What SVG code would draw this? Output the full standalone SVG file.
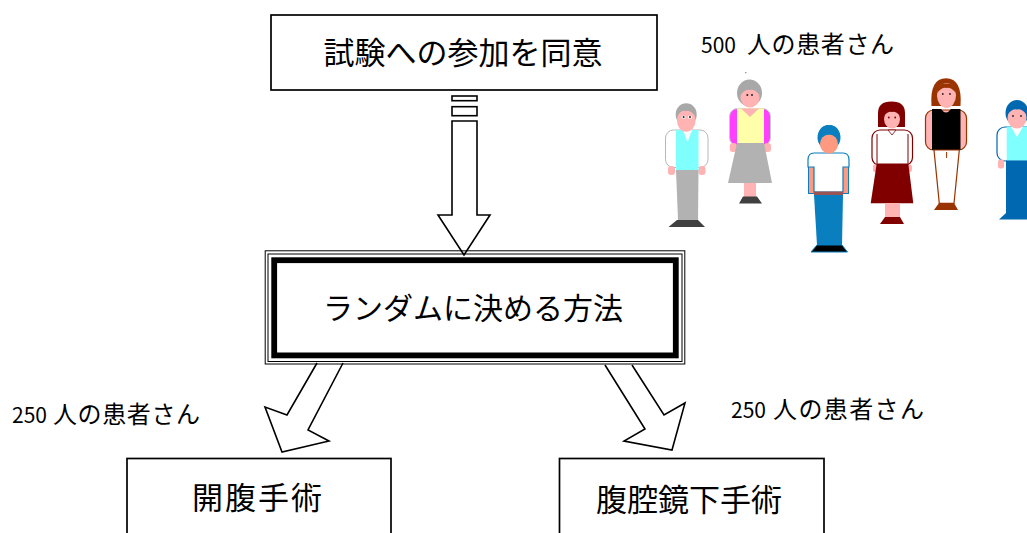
<svg xmlns="http://www.w3.org/2000/svg" width="1027" height="533" viewBox="0 0 1027 533">
  <style>
    .t { font-family: "Noto Sans CJK JP", "Noto Sans CJK SC", sans-serif; fill: #000; }
    .big { font-size: 31px; }
    .lbl { font-size: 21px; }
    .lbl tspan { font-size: 24px; }
    .box { fill: #fff; stroke: #000; stroke-width: 1.7; }
    .ring { fill: none; stroke: #000; stroke-width: 1; }
    .arrow { fill: #fff; stroke: #000; stroke-width: 1.6; stroke-linejoin: miter; }
    .skin { fill: #ffb3b3; }
    .eye { fill: #222; }
  </style>
  <rect width="1027" height="533" fill="#fff"/>

  <!-- block arrows between the steps -->
  <g id="connectors">
    <rect class="arrow" x="452" y="96" width="25" height="4.7"/>
    <rect class="arrow" x="452" y="106.7" width="25" height="9"/>
    <path class="arrow" d="M452,121 L452,215 L438,215 L464,255 L490,215 L477,215 L477,121 Z"/>
    <path class="arrow" d="M317,363 L287,415 L265,407 L282,452 L329,441 L308,430 L343,363"/>
    <path class="arrow" d="M605,365 L645,429 L624,441 L672,450 L685,403 L664,415 L632,365"/>
  </g>

  <!-- consent step -->
  <g id="consent">
    <rect class="box" x="271" y="15" width="386" height="75"/>
    <text class="t big" x="463" y="64" text-anchor="middle">試験への参加を同意</text>
  </g>

  <!-- randomisation step: thin-thin-thick frame -->
  <g id="randomize">
    <rect class="ring" x="265.2" y="250.8" width="419.6" height="113.2"/>
    <rect class="ring" x="268" y="254" width="414" height="107.5"/>
    <rect x="274.2" y="260.2" width="401.6" height="95.2" fill="#fff" stroke="#000" stroke-width="5.8"/>
    <text class="t" font-size="30" x="473" y="319" text-anchor="middle">ランダムに決める方法</text>
  </g>

  <!-- treatment arms -->
  <g id="open-surgery">
    <rect class="box" x="127" y="458.5" width="264" height="90"/>
    <text class="t big" x="258" y="509" text-anchor="middle" letter-spacing="2">開腹手術</text>
  </g>
  <g id="lap-surgery">
    <rect class="box" x="559.5" y="458.5" width="264.5" height="90"/>
    <text class="t big" x="689" y="511" text-anchor="middle">腹腔鏡下手術</text>
  </g>

  <!-- patient counts -->
  <g id="counts">
    <text class="t lbl" x="701" y="53">500 <tspan x="747" letter-spacing="0.6">人の患者さん</tspan></text>
    <text class="t lbl" x="12" y="423">250 <tspan x="53" letter-spacing="0.6">人の患者さん</tspan></text>
    <text class="t lbl" x="731" y="418">250 <tspan x="773" letter-spacing="1.4">人の患者さん</tspan></text>
  </g>

  <!-- patients -->
  <g id="patient-1">
    <rect x="665.5" y="130" width="42.5" height="37.5" rx="8" fill="#fff" stroke="#b8b8b8" stroke-width="1"/>
    <rect class="skin" x="668" y="166" width="7" height="9" rx="3"/>
    <rect class="skin" x="698.5" y="166" width="7" height="9" rx="3"/>
    <rect x="676" y="130" width="22.5" height="40" fill="#80ffff"/>
    <path d="M683,130 L692,130 L687.5,142 Z" fill="#fff"/>
    <path d="M676,170 L698.5,170 L698,220 L678,220 Z" fill="#b2b2b2"/>
    <path d="M677,220 L698,220 L705,227 L668.5,227 Z" fill="#404040"/>
    <ellipse cx="686.2" cy="114.5" rx="10.5" ry="11.2" fill="#a8a8a8"/>
    <ellipse class="skin" cx="686.2" cy="120.5" rx="9.3" ry="11.2"/>
    <path d="M677,116 Q679,106 686,107 Q694,106 695.5,116 Q690,110 686,111 Q681,110 677,116 Z" fill="#a8a8a8"/>
    <rect x="681.8" y="115.8" width="3.6" height="2.6" fill="#fff"/>
    <rect x="688.2" y="115.8" width="3.6" height="2.6" fill="#fff"/>
    <circle class="eye" cx="683.6" cy="117.1" r="1"/>
    <circle class="eye" cx="690" cy="117.1" r="1"/>
  </g>

  <g id="patient-2">
    <rect x="745" y="72" width="1.5" height="1.2" fill="#999"/>
    <rect x="729.5" y="108.5" width="41" height="37" rx="8" fill="#ff40ff" stroke="#c8c8c8" stroke-width="1"/>
    <rect class="skin" x="729.8" y="143" width="7" height="9" rx="3"/>
    <rect class="skin" x="764" y="143" width="7" height="9" rx="3"/>
    <rect x="737" y="108.5" width="27" height="35" fill="#ffffaa"/>
    <path class="skin" d="M741,108.5 L759,108.5 L750,117 Z"/>
    <path d="M737,143 L764,143 L772,183 L728,183 Z" fill="#b2b2b2"/>
    <rect class="skin" x="744" y="183" width="12" height="14"/>
    <path d="M743,196.5 L757,196.5 L762,203.5 L739,203.5 Z" fill="#404040"/>
    <ellipse cx="749.5" cy="93" rx="12.5" ry="13.5" fill="#a8a8a8"/>
    <ellipse class="skin" cx="750" cy="97.5" rx="9.5" ry="10"/>
    <path d="M740.5,95 Q741,86 750,86.5 Q759,86 759.5,95 Q755,89 750,90 Q745,89 740.5,95 Z" fill="#a8a8a8"/>
    <circle class="eye" cx="747.3" cy="95" r="1"/>
    <circle class="eye" cx="752" cy="95" r="1"/>
  </g>

  <g id="patient-3">
    <rect x="808.5" y="165" width="6" height="28.5" fill="#ff9980" stroke="#0a7fc0" stroke-width="1"/>
    <rect x="842.5" y="165" width="6" height="28.5" fill="#ff9980" stroke="#0a7fc0" stroke-width="1"/>
    <path d="M814,153 L843,153 Q849,153 849,160 L849,167 L843,167 L843,192 L814,192 L814,167 L808,167 L808,160 Q808,153 814,153 Z" fill="#fff" stroke="#0a7fc0" stroke-width="1.2"/>
    <rect x="814" y="191.5" width="29" height="3.5" fill="#995555"/>
    <path d="M814,195 L843,195 L842,245 L817,245 Z" fill="#0a7fc0"/>
    <path d="M817,245 L842,245 L847.5,252 L811,252 Z" fill="#000" stroke="#0a7fc0" stroke-width="1"/>
    <ellipse cx="829" cy="137.5" rx="11.5" ry="12.5" fill="#0a7fc0"/>
    <ellipse cx="829" cy="144" rx="9" ry="9.5" fill="#ff9980"/>
    <path d="M818,139 Q818,125 829,125 Q840,125 840,139 Q835,133.5 829,134.5 Q823,133.5 818,139 Z" fill="#0a7fc0"/>
  </g>

  <g id="patient-4">
    <rect x="872" y="130" width="40.5" height="35.5" rx="8" fill="#fff" stroke="#800000" stroke-width="1.2"/>
    <line x1="877" y1="134" x2="877" y2="165" stroke="#800000" stroke-width="1"/>
    <line x1="908" y1="134" x2="908" y2="165" stroke="#800000" stroke-width="1"/>
    <rect class="skin" x="873" y="164.5" width="5" height="7.5" rx="2"/>
    <rect class="skin" x="907" y="164.5" width="5" height="7.5" rx="2"/>
    <path d="M876.7,163.5 L908.3,163.5 L913.3,203.3 L870.7,203.3 Z" fill="#800000"/>
    <rect class="skin" x="885" y="203" width="15" height="14"/>
    <path d="M885,217 L900,217 L904,224 L880,224 Z" fill="#800000"/>
    <path d="M878,127 L878,113 Q878,101.5 891.5,101.5 Q905,101.5 905,113 L905,127 Z" fill="#800000"/>
    <ellipse class="skin" cx="892" cy="119" rx="8" ry="9.5"/>
    <path d="M884,116 Q885,108 892,108.5 Q899,108 900,116 Q896,111 892,112 Q888,111 884,116 Z" fill="#800000"/>
    <path d="M888,130 L896,130 L892,135 Z" fill="#fff" stroke="#800000" stroke-width="0.8"/>
    <circle cx="888.8" cy="117.5" r="0.9" fill="#800000"/>
    <circle cx="895.2" cy="117.5" r="0.9" fill="#800000"/>
  </g>

  <g id="patient-5">
    <rect class="skin" x="925.5" y="110" width="41" height="40" rx="8" stroke="#993300" stroke-width="1.2"/>
    <path d="M932,109 L941,109 Q946,116 951,109 L960.5,109 L960.5,150 L932,150 Z" fill="#000"/>
    <path d="M934,150 L959.3,150 L954,203.3 L939.3,203.3 Z" fill="#fff" stroke="#993300" stroke-width="1.2"/>
    <line x1="946.6" y1="152" x2="946.6" y2="158" stroke="#993300" stroke-width="1"/>
    <path d="M939,203 L954,203 L958,210 L934,210 Z" fill="#993300"/>
    <path d="M931.5,106 Q929.5,78.3 946,78.3 Q962.5,78.3 960.5,106 Z" fill="#993300"/>
    <ellipse class="skin" cx="946.5" cy="95.5" rx="9.5" ry="12.5"/>
    <path d="M937,93 Q938,83 946.5,83.5 Q955,83 956,93 Q951,87 946.5,88 Q942,87 937,93 Z" fill="#993300"/>
    <circle class="eye" cx="942.8" cy="94" r="0.9"/>
    <circle class="eye" cx="950" cy="94" r="0.9"/>
  </g>

  <g id="patient-6">
    <rect x="997" y="127" width="40" height="34" rx="8" fill="#fff" stroke="#0068b0" stroke-width="1.2"/>
    <rect class="skin" x="998" y="159.5" width="6" height="9" rx="2"/>
    <rect x="1006.7" y="126.7" width="30" height="34" fill="#80ffff"/>
    <path d="M1011,126.7 L1023,126.7 L1017,137 Z" fill="#fff"/>
    <path d="M1006,160.5 L1035,160.5 L1035,213 L1006,213 Z" fill="#0068b0"/>
    <path d="M1006,213 L1035,213 L1035,219.5 L999,219.5 Z" fill="#0068b0"/>
    <ellipse cx="1017" cy="113" rx="11.5" ry="13" fill="#0068b0"/>
    <ellipse class="skin" cx="1017" cy="118" rx="9.5" ry="10.5"/>
    <path d="M1007,115 Q1008,104 1017,104.5 Q1026,104 1027,115 Q1022,108.5 1017,109.5 Q1012,108.5 1007,115 Z" fill="#0068b0"/>
    <circle class="eye" cx="1013" cy="116" r="0.9"/>
    <circle class="eye" cx="1021" cy="116" r="0.9"/>
  </g>
</svg>
